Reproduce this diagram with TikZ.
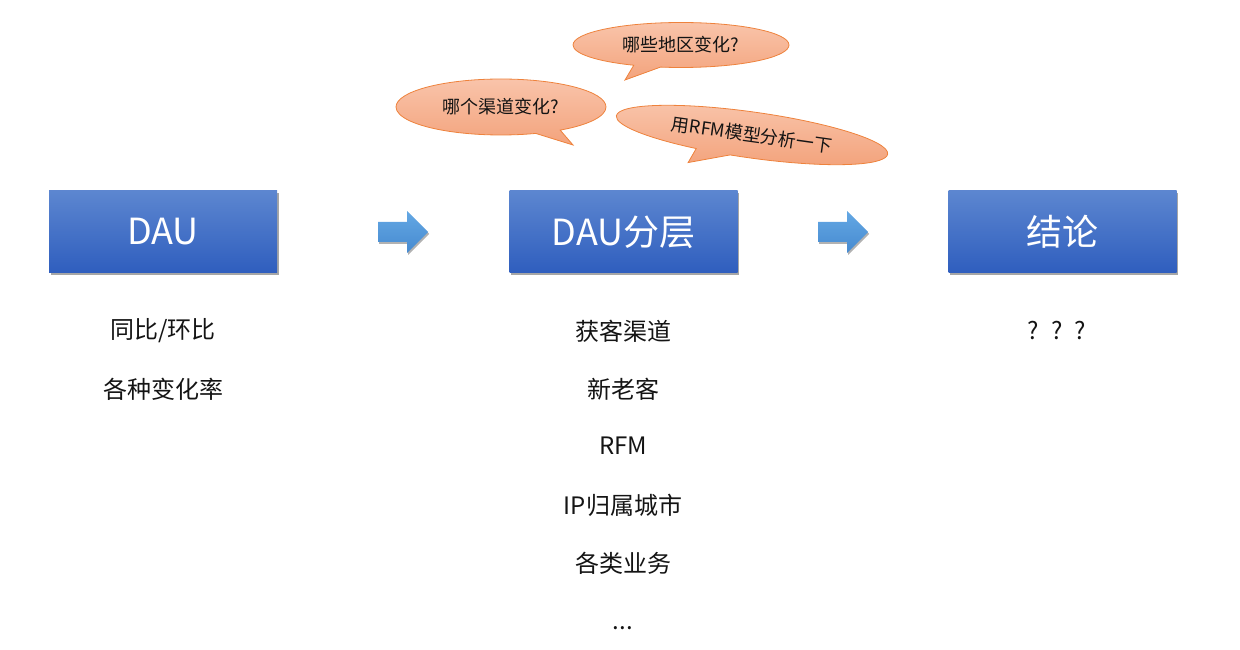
\documentclass[tikz,border=0pt]{standalone}
\usepackage{fontspec}
\setmainfont{Noto Sans CJK SC}
\usetikzlibrary{shapes.callouts,shadows}
\definecolor{boxtop}{RGB}{92,134,208}
\definecolor{boxbot}{RGB}{47,94,190}
\definecolor{bubtop}{RGB}{249,196,170}
\definecolor{bubbot}{RGB}{243,163,124}
\definecolor{bubline}{RGB}{238,130,60}
\definecolor{arrtop}{RGB}{100,168,228}
\definecolor{arrbot}{RGB}{70,138,208}
\definecolor{txt}{RGB}{20,20,20}
\tikzset{
  stagebox/.style={rectangle, inner sep=0pt, minimum width=228pt, minimum height=82pt,
    top color=boxtop, bottom color=boxbot, text=white,
    font=\fontsize{36}{40}\selectfont,
    drop shadow={shadow xshift=1.5pt, shadow yshift=-2.5pt, opacity=0.35, fill=black}},
  bubble/.style={ellipse callout, inner sep=0pt, top color=bubtop, bottom color=bubbot,
    draw=bubline, line width=0.8pt, text=txt, font=\fontsize{18}{22}\selectfont},
  itemtext/.style={text=txt, font=\fontsize{24}{28}\selectfont, inner sep=0pt},
  blockarrow/.style={top color=arrtop, bottom color=arrbot,
    drop shadow={shadow xshift=1.2pt, shadow yshift=-1.8pt, opacity=0.3, fill=black}}
}
\begin{document}
\begin{tikzpicture}[x=1pt,y=1pt]
\useasboundingbox (0,0) rectangle (1240,649);
% stage boxes
\node[stagebox] (dau) at (163,417) {DAU};
\node[stagebox] (layer) at (623.5,417) {DAU分层};
\node[stagebox] (concl) at (1062.5,417) {结论};
% block arrows
\coordinate (a1) at (403,417);
\coordinate (a2) at (843,417);
\foreach \c in {a1,a2}{
  \path[blockarrow] (\c) ++(-25,10) -- ++(29,0) -- ++(0,11) -- ++(21,-21) -- ++(-21,-21)
    -- ++(0,11) -- ++(-29,0) -- cycle;
}
% bubbles
\node[bubble, minimum width=216pt, minimum height=45pt,
  callout absolute pointer={(625,569)}] (b1) at (681,604) {哪些地区变化?};
\node[bubble, minimum width=210pt, minimum height=56pt,
  callout absolute pointer={(573,504)}] (b2) at (501,542) {哪个渠道变化?};
\node[bubble, minimum width=274pt, minimum height=46pt, rotate=-8,
  callout relative pointer={(-23pt,-14pt)}] (b3) at (752,514) {用RFM模型分析一下};
% items
\node[itemtext] (l1) at (163,318) {同比/环比};
\node[itemtext] (l2) at (163,260) {各种变化率};
\node[itemtext] (m1) at (623,318) {获客渠道};
\node[itemtext] (m2) at (623,260) {新老客};
\node[itemtext] (m3) at (623,203) {RFM};
\node[itemtext] (m4) at (623,144) {IP归属城市};
\node[itemtext] (m5) at (623,86) {各类业务};
\node[itemtext, anchor=base] (m6) at (623,20) {...};
\node[itemtext] (r1) at (1057,318) {?\hspace{12pt}?\hspace{12pt}?};
\end{tikzpicture}
\end{document}
